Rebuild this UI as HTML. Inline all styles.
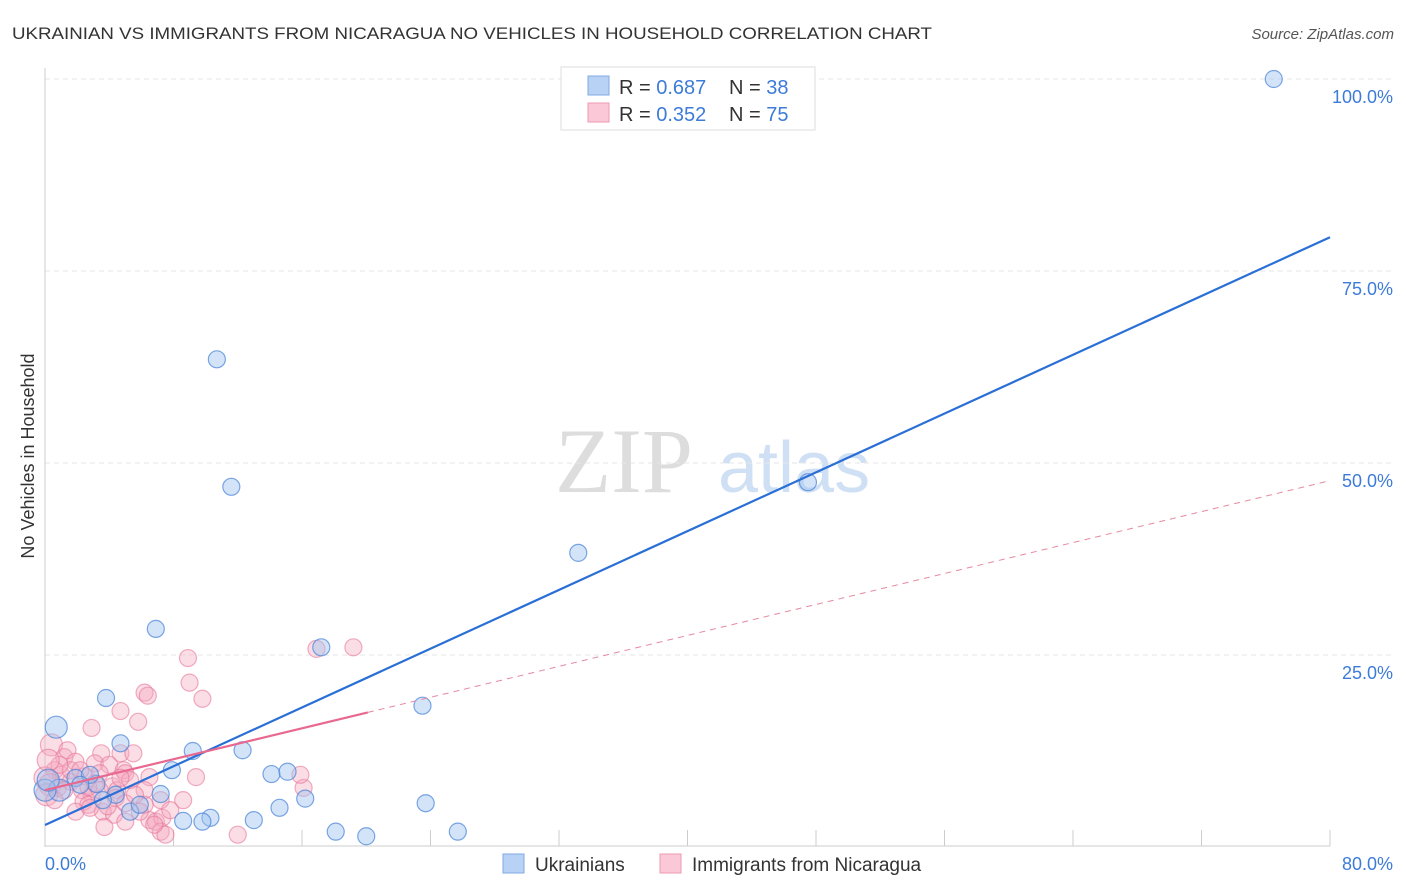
<!DOCTYPE html>
<html><head><meta charset="utf-8"><style>
body{margin:0;background:#fff;font-family:"Liberation Sans",sans-serif}
svg{display:block}
</style></head><body>
<svg id="chart" width="1406" height="892" xmlns="http://www.w3.org/2000/svg" font-family="Liberation Sans, sans-serif">
<text x="12" y="39" font-size="17" fill="#333" textLength="920" lengthAdjust="spacingAndGlyphs">UKRAINIAN VS IMMIGRANTS FROM NICARAGUA NO VEHICLES IN HOUSEHOLD CORRELATION CHART</text>
<text x="1394" y="39" font-size="15" fill="#555" font-style="italic" text-anchor="end">Source: ZipAtlas.com</text>
<text transform="translate(34,456) rotate(-90)" font-size="18" fill="#333" text-anchor="middle">No Vehicles in Household</text>
<g>
<text x="555" y="492" font-size="92" fill="#ddd" font-family="Liberation Serif, serif">ZIP</text>
<text x="718" y="492" font-size="72" fill="#cfe0f5">atlas</text>
</g>
<g id="grid"></g>
<g id="axes"></g>
<g id="points"></g>
<g id="lines"></g>
<g>
<rect x="561" y="67" width="254" height="63" fill="#fff" stroke="#ddd"/>
<rect x="588" y="76" width="21" height="19" fill="#b7d2f5" stroke="#7fa9e3"/>
<rect x="588" y="103" width="21" height="19" fill="#fac8d6" stroke="#ee9ab3"/>
<text x="619" y="94" font-size="20" fill="#333">R = <tspan fill="#3d7bd9">0.687</tspan><tspan x="729">N = </tspan><tspan fill="#3d7bd9">38</tspan></text>
<text x="619" y="121" font-size="20" fill="#333">R = <tspan fill="#3d7bd9">0.352</tspan><tspan x="729">N = </tspan><tspan fill="#3d7bd9">75</tspan></text>
</g>
<g>
<rect x="503" y="854" width="21" height="19" fill="#b7d2f5" stroke="#7fa9e3"/>
<text x="535" y="871" font-size="19" fill="#333">Ukrainians</text>
<rect x="660" y="854" width="21" height="19" fill="#fac8d6" stroke="#ee9ab3"/>
<text x="692" y="871" font-size="19" fill="#333">Immigrants from Nicaragua</text>
</g>
</svg>
<script>
const yTicks=[25,50,75,100];
const xTickLabels=["0.0%","80.0%"];
const blueX=[76.5,10.7,11.6,47.5,33.2,6.9,17.2,3.8,23.5,0.7,4.7,12.3,9.2,7.9,14.1,15.1,16.2,7.2,23.7,14.6,13.0,10.3,8.6,9.8,18.1,20.0,25.7,3.2,5.3,5.9,0.9,0.0,1.9,2.8,2.2,4.4,3.6,0.2];
const blueY=[100.0,63.5,46.9,47.5,38.3,28.4,26.0,19.4,18.4,15.6,13.5,12.6,12.5,10.0,9.5,9.8,6.3,6.9,5.7,5.1,3.5,3.8,3.4,3.3,2.0,1.4,2.0,8.2,4.6,5.5,7.4,7.4,9.0,9.4,8.1,6.8,6.1,8.7];
const pinkX=[19.2,16.9,8.9,9.0,6.2,6.4,9.8,4.7,5.8,2.9,0.4,4.7,5.5,3.5,1.2,1.4,1.9,3.1,4.0,0.6,1.0,2.5,3.4,4.9,5.0,5.3,6.5,9.4,16.1,0,0.3,0.8,1.6,2.3,2.9,4.2,4.5,6.2,7.2,8.6,2.4,2.7,4.4,5.0,3.6,4.3,5.0,6.2,6.5,6.9,7.3,7.2,7.5,3.7,1.9,12.0,15.9,1.6,0.9,0.2,2.2,3.1,5.9,6.8,2.8,3.9,1.2,2.7,5.6,0.1,0.6,3.4,4.7,7.8];
const pinkY=[26.0,25.8,24.6,21.4,20.1,19.7,19.3,17.7,16.3,15.5,13.3,12.2,12.2,12.2,11.7,12.6,11.1,10.9,10.7,10.0,9.4,9.2,9.6,10.0,9.6,8.7,9.1,9.1,7.7,9.0,8.1,7.7,8.5,7.4,6.8,7.9,7.4,7.4,6.1,6.1,5.9,5.5,6.4,5.7,4.6,4.2,3.3,5.5,3.5,3.3,3.8,2.0,1.6,2.6,4.6,1.6,9.4,10.0,10.7,11.3,10.0,8.3,4.6,2.9,5.1,5.3,7.4,7.8,6.8,6.8,6.1,7.4,9.0,4.8];
const blueTrend=[2.86,79.4];
const pinkTrend=[7.4,47.7];
const pinkSolidEnd=20.1;
const NS="http://www.w3.org/2000/svg";
const xs=v=>45+v*(1285/80);
const ys=v=>847-v*7.68;
function mk(tag,attrs,parent){const e=document.createElementNS(NS,tag);for(const k in attrs)e.setAttribute(k,attrs[k]);parent.appendChild(e);return e;}
const grid=document.getElementById('grid'),axes=document.getElementById('axes'),pts=document.getElementById('points'),lines=document.getElementById('lines');
yTicks.forEach(t=>{
 const l=mk('line',{x1:45,x2:1393,y1:ys(t),y2:ys(t),stroke:'#e6e6e6','stroke-dasharray':'5,4'},grid);
 
 
 const tx=mk('text',{x:1393,y:ys(t)+24,'font-size':18,fill:'#3d7bd9','text-anchor':'end'},axes);
 tx.textContent=t.toFixed(1)+'%';
 
 
});
const ya=mk('line',{x1:45,x2:45,y1:68,y2:847,stroke:'#ccc'},axes);


const xa=mk('line',{x1:45,x2:1330,y1:846,y2:846,stroke:'#ccc'},axes);


for(let i=1;i<=10;i++){
 const tk=mk('line',{x1:xs(i*8),x2:xs(i*8),y1:830,y2:846,stroke:'#ccc'},axes);
 
 
}
const xl0=mk('text',{x:45,y:870,'font-size':18,fill:'#3d7bd9'},axes);xl0.textContent=xTickLabels[0];


const xl1=mk('text',{x:1393,y:870,'font-size':18,fill:'#3d7bd9','text-anchor':'end'},axes);xl1.textContent=xTickLabels[1];


pinkX.forEach((x,i)=>{
 const c=mk('circle',{cx:xs(x),cy:ys(pinkY[i]),r:(x<0.5?11:8.5),fill:'rgba(245,170,192,0.4)',stroke:'rgba(230,120,155,0.6)','stroke-width':1.2},pts);
 
 
});
blueX.forEach((x,i)=>{
 const c=mk('circle',{cx:xs(x),cy:ys(blueY[i]),r:(x<1?11:8.5),fill:'rgba(160,196,240,0.45)',stroke:'rgba(70,130,215,0.7)','stroke-width':1.2},pts);
 
 
});
const bl=mk('line',{x1:xs(0),y1:ys(blueTrend[0]),x2:xs(80),y2:ys(blueTrend[1]),stroke:'#2a6fd6','stroke-width':2.2},lines);


const pAt=v=>pinkTrend[0]+(pinkTrend[1]-pinkTrend[0])*v/80;
const ps=mk('line',{x1:xs(0),y1:ys(pAt(0)),x2:xs(pinkSolidEnd),y2:ys(pAt(pinkSolidEnd)),stroke:'#e8688f','stroke-width':2.2},lines);


const pd=mk('line',{x1:xs(pinkSolidEnd),y1:ys(pAt(pinkSolidEnd)),x2:xs(80),y2:ys(pAt(80)),stroke:'#e8889f','stroke-width':1,'stroke-dasharray':'6,5'},lines);


</script>
</body></html>
